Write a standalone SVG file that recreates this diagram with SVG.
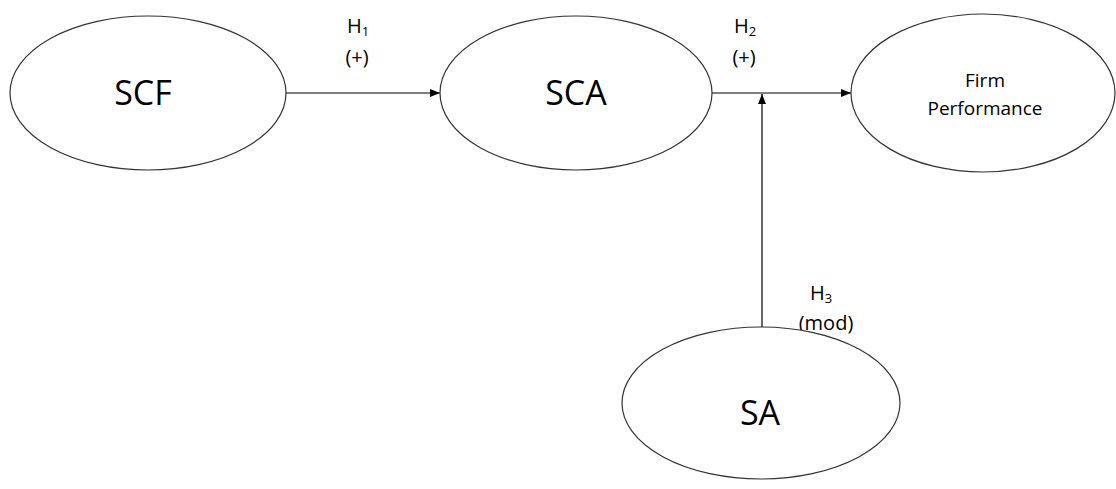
<svg xmlns="http://www.w3.org/2000/svg" width="1116" height="489" viewBox="0 0 1116 489">
<defs>
<style>
.node{fill:#fff;stroke:#333;stroke-width:1.2}
.big{font-family:"Open Sans","Noto Sans",sans-serif;font-size:34px;fill:#000;text-anchor:middle}
.mid{font-family:"Open Sans","Noto Sans",sans-serif;font-size:19px;fill:#000;text-anchor:middle}
.lbl{font-family:"Open Sans","Noto Sans",sans-serif;font-size:20px;fill:#000;text-anchor:middle}
.sub{font-size:13px}
.edge{stroke:#000;stroke-width:1.2;fill:none;marker-end:url(#arr)}
</style>
<marker id="arr" viewBox="0 0 10 10" refX="10" refY="5" markerWidth="10" markerHeight="10" markerUnits="userSpaceOnUse" orient="auto">
<path d="M0,1 L10,5 L0,9 Z" fill="#000"/>
</marker>
</defs>
<rect width="1116" height="489" fill="#fff"/>
<g id="connectors">
<line class="edge" x1="285" y1="93" x2="440" y2="93"/>
<line class="edge" x1="712" y1="93" x2="851" y2="93"/>
<line class="edge" x1="762" y1="328" x2="762" y2="94"/>
</g>
<g id="labels">
<text class="lbl" x="358" y="33">H<tspan class="sub" dy="3">1</tspan></text>
<text class="lbl" x="357" y="64">(+)</text>
<text class="lbl" x="745" y="33">H<tspan class="sub" dy="3">2</tspan></text>
<text class="lbl" x="744" y="64">(+)</text>
<text class="lbl" x="821" y="300">H<tspan class="sub" dy="3">3</tspan></text>
<text class="lbl" x="826" y="330">(mod)</text>
</g>
<g id="SCF">
<ellipse class="node" cx="148" cy="93" rx="138" ry="77"/>
<text class="big" x="143" y="105">SCF</text>
</g>
<g id="SCA">
<ellipse class="node" cx="576" cy="93" rx="136" ry="77"/>
<text class="big" x="576" y="105">SCA</text>
</g>
<g id="FirmPerformance">
<ellipse class="node" cx="983" cy="93" rx="132" ry="79"/>
<text class="mid" x="985" y="87">Firm</text>
<text class="mid" x="985" y="115">Performance</text>
</g>
<g id="SA">
<ellipse class="node" cx="761" cy="403" rx="139" ry="76"/>
<text class="big" x="760" y="425">SA</text>
</g>
</svg>
